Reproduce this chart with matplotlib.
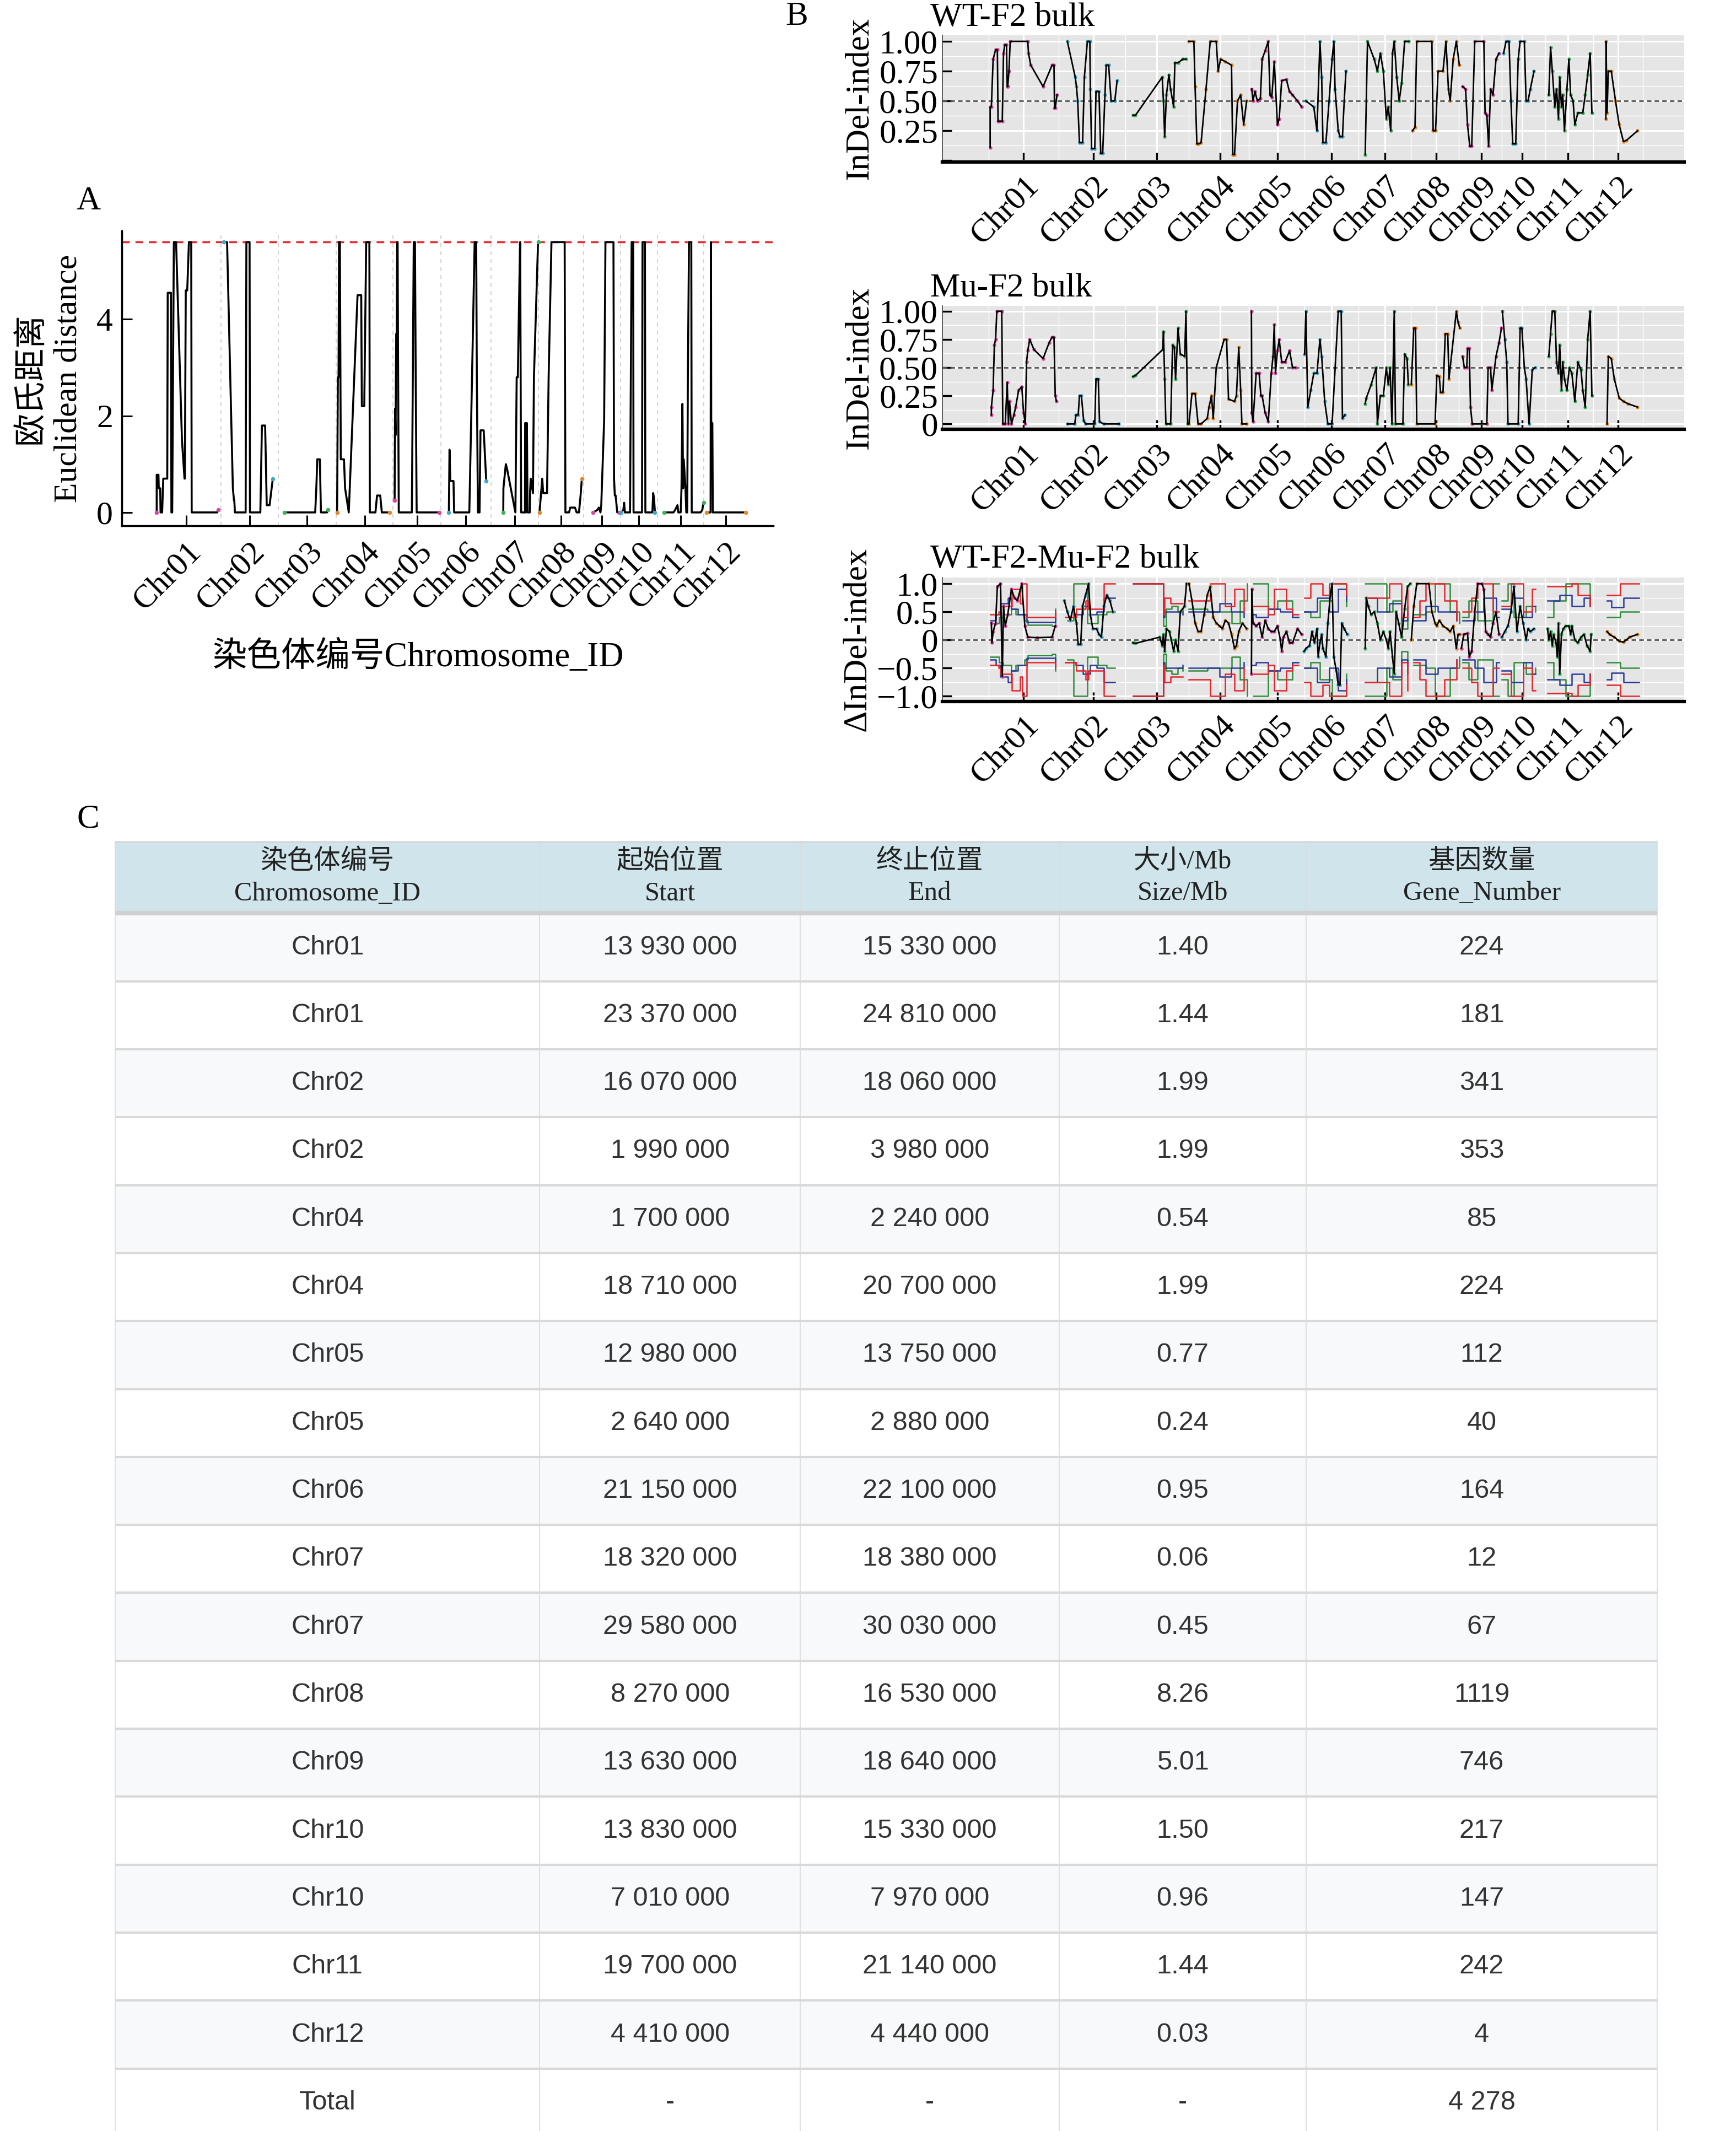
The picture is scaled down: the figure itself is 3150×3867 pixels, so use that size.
import numpy as np
import matplotlib
matplotlib.use("Agg")
import matplotlib.pyplot as plt

plt.rcParams['font.family'] = ['Liberation Serif', 'Noto Sans CJK SC']
plt.rcParams['axes.unicode_minus'] = True

# ---------------- chromosome layout ----------------
chrom_names = ['Chr01', 'Chr02', 'Chr03', 'Chr04', 'Chr05', 'Chr06',
               'Chr07', 'Chr08', 'Chr09', 'Chr10', 'Chr11', 'Chr12']
chrom_len = [43.27, 35.94, 36.41, 35.50, 29.96, 31.25, 29.70, 28.44, 23.01, 23.21, 29.02, 27.53]
chrom_colors = ['#d6489e', '#3fa9c6', '#3db35f', '#e08b2b'] * 3

# ---------------- panel A: Euclidean distance (pos in Mb within chromosome) ----------------
ed_pos = [
    [3.2, 3.2, 4.3, 4.5, 5.4, 5.6, 6.6, 7.3, 7.9, 9.8, 10.1, 12.1, 12.4, 12.9, 13.4, 13.93, 15.33, 19.0, 20.6, 20.8, 21.4, 22.3, 23.37, 24.81, 25.1, 33.0, 41.0, 41.8],
    [1.99, 3.98, 7.6, 8.3, 8.5, 8.9, 15.6, 16.07, 18.06, 18.3, 24.8, 25.8, 27.8, 28.8, 30.6, 32.6],
    [4.0, 23.2, 23.9, 24.5, 26.1, 26.8, 30.6, 31.3],
    [0.5, 1.0, 1.4, 1.7, 2.24, 2.8, 4.8, 5.5, 7.8, 13.3, 15.6, 16.0, 17.5, 18.71, 20.7, 21.0, 24.5, 25.5, 27.5, 28.5, 30.0, 33.5],
    [1.0, 1.3, 1.6, 2.0, 2.3, 2.64, 2.88, 3.2, 3.6, 11.8, 12.4, 12.98, 13.75, 14.2, 14.8, 29.0],
    [5.0, 5.4, 5.9, 6.6, 7.9, 8.3, 17.8, 19.5, 21.15, 22.1, 22.5, 23.2, 24.2, 24.8, 26.8, 27.4, 28.4],
    [7.8, 7.9, 9.4, 10.2, 15.4, 16.2, 16.9, 18.32, 18.38, 19.0, 21.4, 21.5, 21.9, 22.0, 22.6, 23.0, 24.4, 24.6, 25.0, 26.4, 27.0, 29.58, 29.7],
    [0.8, 2.5, 3.1, 3.8, 5.5, 6.5, 8.27, 16.53, 17.0, 19.3, 20.0, 20.5, 23.0, 24.0, 25.5, 26.5, 27.3],
    [6.0, 8.5, 9.5, 10.5, 11.0, 12.8, 13.63, 18.64, 19.0, 19.5, 20.0, 21.0, 22.5],
    [0.5, 1.8, 2.3, 2.8, 6.0, 7.01, 7.97, 8.2, 13.5, 13.83, 15.33, 15.6, 20.0, 20.5, 21.0, 21.6],
    [4.0, 10.0, 11.0, 12.5, 13.0, 14.5, 15.0, 15.6, 16.0, 16.4, 17.5, 18.0, 18.6, 19.0, 19.7, 21.14, 21.4, 27.0, 28.0, 28.5, 28.8],
    [1.5, 4.2, 4.41, 4.44, 4.6, 5.3, 5.6, 8.0, 18.0, 26.0],
]
ed_val = [
    [0.0, 0.78, 0.78, 0.5, 0.5, 0.0, 0.0, 0.7, 0.7, 0.7, 4.55, 4.55, 0.0, 0.0, 2.8, 5.6, 5.6, 1.5, 0.7, 0.7, 4.6, 4.6, 5.6, 5.6, 0.0, 0.0, 0.0, 0.05],
    [5.6, 5.6, 0.5, 0.25, 0.25, 0.0, 0.0, 5.6, 5.6, 0.0, 0.0, 1.8, 1.8, 0.15, 0.15, 0.7],
    [0.0, 0.0, 0.5, 1.1, 1.1, 0.0, 0.0, 0.05],
    [0.0, 2.8, 2.8, 5.6, 5.6, 1.1, 1.1, 0.5, 0.0, 4.5, 4.5, 2.2, 2.2, 5.6, 5.6, 0.0, 0.0, 0.35, 0.35, 0.0, 0.0, 0.0],
    [0.25, 2.15, 1.6, 3.7, 3.7, 5.6, 5.6, 2.8, 0.0, 0.0, 2.8, 5.6, 5.6, 2.8, 0.0, 0.0],
    [0.0, 1.3, 0.65, 0.65, 0.65, 0.0, 0.0, 2.8, 5.6, 5.6, 2.8, 0.0, 0.0, 1.7, 1.7, 1.3, 0.65],
    [0.0, 0.5, 1.0, 0.9, 0.0, 2.8, 2.8, 5.6, 5.6, 0.0, 0.0, 1.85, 1.85, 0.0, 1.85, 0.0, 0.0, 0.45, 0.7, 0.4, 2.8, 5.6, 5.6],
    [0.0, 0.7, 0.4, 0.4, 0.4, 2.8, 5.6, 5.6, 0.0, 0.0, 0.1, 0.1, 0.1, 0.0, 0.0, 0.35, 0.7],
    [0.0, 0.05, 0.1, 0.0, 0.15, 1.9, 5.6, 5.6, 0.7, 0.35, 0.35, 0.0, 0.0],
    [0.0, 0.05, 0.2, 0.0, 0.0, 5.6, 5.6, 0.0, 0.0, 5.6, 5.6, 0.0, 0.0, 0.4, 0.3, 0.0],
    [0.0, 0.0, 0.05, 0.15, 0.0, 0.0, 0.5, 2.25, 0.5, 1.1, 0.5, 0.0, 0.0, 2.8, 5.6, 5.6, 0.0, 0.0, 0.05, 0.15, 0.2],
    [0.0, 0.0, 5.6, 5.6, 1.85, 1.85, 0.0, 0.0, 0.0, 0.0],
]
ed_threshold = 5.6

# ---------------- panel B: InDel-index WT-F2 bulk ----------------
wt_pos = [
    [2.6, 2.6, 3.3, 4.3, 5.7, 6.7, 7.1, 7.8, 9.5, 10.2, 10.9, 11.9, 12.3, 12.6, 13.3, 14.0, 24.0, 24.4, 25.7, 32.7, 37.8, 38.9, 39.2, 39.6, 40.6],
    [3.2, 7.7, 8.4, 9.1, 10.1, 11.9, 12.9, 14.6, 16.0, 16.3, 17.0, 18.8, 19.5, 21.2, 22.2, 23.3, 24.6, 25.3, 26.7, 28.1, 30.2, 31.5],
    [4.6, 6.0, 21.2, 21.9, 22.6, 23.6, 25.0, 26.0, 27.7, 28.4, 30.2, 32.9, 34.7],
    [0.0, 2.8, 3.5, 4.5, 5.5, 6.9, 9.7, 12.1, 15.5, 16.6, 18.0, 20.7, 24.2, 24.9, 25.9, 27.6, 29.4, 31.1, 32.8],
    [0.2, 0.9, 2.0, 3.4, 5.1, 6.1, 7.8, 9.6, 10.6, 11.6, 13.0, 14.8, 15.8, 17.2, 19.9, 21.6, 23.4, 26.2, 28.6],
    [1.0, 5.5, 7.3, 9.0, 10.0, 10.7, 12.4, 14.2, 15.9, 16.9, 17.6, 19.4, 20.4, 21.8, 22.8, 23.8],
    [3.5, 4.1, 4.8, 8.6, 10.4, 12.1, 13.8, 15.5, 16.6, 18.0, 19.0, 20.0, 21.4, 22.8, 24.2, 25.9, 28.3],
    [0.7, 2.1, 3.1, 11.7, 12.4, 13.8, 15.2, 18.0, 19.7, 21.1, 22.1, 23.8, 25.6, 27.3],
    [0.7, 2.4, 3.5, 4.8, 5.9, 7.6, 12.8, 13.5, 14.5, 15.5, 16.6, 18.0, 19.7, 21.4],
    [1.0, 2.4, 4.1, 5.2, 6.2, 7.9, 9.3, 10.4, 12.8, 13.8, 14.9, 16.2, 18.3],
    [3.5, 4.5, 5.5, 6.9, 7.9, 9.0, 9.7, 10.7, 11.4, 12.4, 13.8, 14.9, 15.9, 17.3, 18.3, 20.0, 22.8, 24.2, 25.6, 27.0, 28.0],
    [6.9, 7.0, 7.6, 8.3, 10.0, 12.4, 14.5, 16.9, 18.7, 24.9],
]
wt_val = [
    [0.11, 0.45, 0.45, 0.85, 0.93, 0.93, 0.33, 0.33, 0.33, 0.9, 0.97, 0.97, 0.62, 0.62, 0.75, 1.0, 1.0, 0.9, 0.8, 0.62, 0.8, 0.8, 0.44, 0.44, 0.55],
    [1.0, 0.7, 0.62, 0.5, 0.15, 0.15, 0.7, 1.0, 1.0, 0.6, 0.1, 0.1, 0.58, 0.58, 0.06, 0.06, 0.55, 0.8, 0.8, 0.5, 0.5, 0.67],
    [0.38, 0.38, 0.7, 0.5, 0.2, 0.55, 0.72, 0.6, 0.45, 0.82, 0.82, 0.85, 0.85],
    [1.0, 1.0, 0.62, 0.14, 0.14, 0.15, 0.6, 1.0, 1.0, 0.75, 0.85, 0.83, 0.8, 0.05, 0.05, 0.5, 0.55, 0.3, 0.5],
    [0.6, 0.5, 0.58, 0.5, 0.52, 0.85, 0.92, 1.0, 0.55, 0.53, 0.83, 0.3, 0.35, 0.67, 0.68, 0.58, 0.55, 0.5, 0.45],
    [0.5, 0.45, 0.25, 1.0, 0.7, 0.15, 0.15, 0.5, 0.85, 1.0, 0.6, 0.25, 0.2, 0.2, 0.5, 0.75],
    [0.05, 0.5, 1.0, 0.85, 0.75, 0.9, 0.75, 0.35, 0.45, 0.25, 0.9, 1.0, 0.7, 0.5, 0.65, 1.0, 1.0],
    [0.25, 0.28, 1.0, 1.0, 0.25, 0.25, 0.75, 0.75, 1.0, 0.6, 0.5, 0.85, 1.0, 0.8],
    [0.62, 0.6, 0.3, 0.12, 0.12, 1.0, 1.0, 0.4, 0.38, 0.12, 0.6, 0.55, 0.85, 0.9],
    [0.9, 1.0, 1.0, 0.5, 0.14, 0.14, 0.85, 1.0, 1.0, 0.5, 0.5, 0.6, 0.75],
    [0.55, 0.95, 0.75, 0.45, 0.6, 0.35, 0.7, 0.45, 0.55, 0.25, 0.6, 0.85, 0.55, 0.5, 0.3, 0.4, 0.4, 0.55, 0.72, 0.9, 0.4],
    [0.35, 1.0, 0.4, 0.75, 0.75, 0.5, 0.3, 0.16, 0.17, 0.25],
]

# ---------------- panel B: InDel-index Mu-F2 bulk ----------------
mu_pos = [
    [3.3, 3.3, 4.3, 5.0, 5.7, 6.4, 9.2, 9.8, 11.2, 12.3, 13.0, 13.6, 14.7, 16.1, 17.1, 18.8, 20.6, 21.6, 22.6, 23.3, 24.0, 25.1, 27.5, 32.7, 36.1, 37.8, 38.9, 39.6, 40.3],
    [3.2, 7.4, 8.1, 9.4, 10.1, 11.2, 12.5, 13.6, 18.8, 19.5, 20.8, 21.5, 23.9, 32.6],
    [4.6, 6.0, 21.5, 21.9, 22.6, 23.3, 26.0, 27.1, 28.1, 28.8, 30.2, 31.5, 34.0, 34.7, 35.7],
    [0.0, 1.7, 3.5, 5.2, 6.9, 10.4, 11.4, 12.8, 13.8, 15.5, 20.0, 21.4, 22.5, 25.9, 27.0, 28.3, 29.4, 30.1, 32.8],
    [0.0, 0.25, 0.9, 2.7, 4.4, 5.4, 6.1, 7.8, 9.6, 11.3, 12.3, 13.0, 13.7, 14.8, 15.8, 17.2, 19.2, 21.7, 23.4, 25.1],
    [0.3, 1.0, 2.1, 3.8, 5.5, 7.3, 9.0, 10.0, 11.7, 13.5, 15.9, 19.4, 21.1, 21.8, 23.2],
    [3.5, 4.1, 6.9, 9.7, 10.4, 12.1, 13.8, 15.5, 16.6, 17.6, 18.7, 20.0, 20.7, 24.9, 25.9, 27.3, 28.0],
    [0.0, 1.4, 2.4, 3.1, 13.5, 14.5, 15.9, 16.6, 18.0, 19.3, 20.7, 21.4, 25.6, 26.6, 27.6],
    [0.7, 1.7, 3.1, 3.5, 4.5, 5.2, 6.2, 14.5, 15.2, 16.6, 17.3, 19.7, 21.4, 22.8],
    [0.3, 1.7, 2.8, 3.5, 9.3, 10.4, 11.4, 12.8, 13.8, 15.5, 17.3, 19.0],
    [3.5, 4.5, 5.5, 6.9, 7.9, 9.0, 9.7, 10.7, 11.4, 12.4, 13.8, 15.2, 16.6, 18.3, 20.0, 21.8, 22.8, 24.2, 25.6, 27.0, 28.0],
    [7.6, 8.3, 10.0, 11.7, 14.5, 16.9, 19.4, 24.9],
]
mu_val = [
    [0.08, 0.15, 0.3, 0.7, 0.75, 1.0, 1.0, 0.0, 0.0, 0.37, 0.0, 0.2, 0.0, 0.08, 0.15, 0.3, 0.33, 0.1, 0.0, 0.55, 0.65, 0.75, 0.66, 0.58, 0.72, 0.77, 0.77, 0.25, 0.2],
    [0.0, 0.0, 0.08, 0.08, 0.25, 0.25, 0.03, 0.0, 0.0, 0.4, 0.4, 0.02, 0.0, 0.0],
    [0.42, 0.43, 0.66, 0.82, 0.4, 0.0, 0.0, 0.7, 0.68, 0.4, 0.85, 0.62, 0.6, 1.0, 0.0],
    [0.0, 0.27, 0.27, 0.0, 0.0, 0.05, 0.15, 0.25, 0.05, 0.5, 0.75, 0.75, 0.22, 0.2, 0.25, 0.68, 0.3, 0.0, 0.0],
    [1.0, 0.1, 0.02, 0.45, 0.45, 0.25, 0.25, 0.1, 0.02, 0.45, 0.6, 0.88, 0.45, 0.65, 0.75, 0.55, 0.55, 0.65, 0.5, 0.5],
    [0.62, 1.0, 0.15, 0.3, 0.45, 0.45, 0.75, 0.6, 0.2, 0.0, 0.0, 1.0, 1.0, 0.05, 0.08],
    [0.18, 0.23, 0.35, 0.5, 0.0, 0.25, 0.25, 0.5, 0.35, 0.5, 0.0, 1.0, 0.0, 0.0, 0.62, 0.58, 0.35],
    [0.35, 0.85, 0.85, 0.0, 0.0, 0.43, 0.42, 0.28, 0.28, 0.8, 0.8, 0.4, 1.0, 0.9, 0.85],
    [0.6, 0.5, 0.5, 0.67, 0.67, 0.15, 0.0, 0.0, 0.5, 0.5, 0.3, 0.6, 0.72, 0.85],
    [1.0, 0.75, 0.55, 0.0, 0.0, 0.85, 0.85, 0.5, 0.4, 0.0, 0.48, 0.5],
    [0.6, 0.8, 1.0, 1.0, 0.55, 0.45, 0.7, 0.3, 0.55, 0.4, 0.3, 0.5, 0.45, 0.2, 0.55, 0.48, 0.3, 0.15, 0.75, 1.0, 0.25],
    [0.0, 0.6, 0.58, 0.4, 0.23, 0.2, 0.18, 0.15],
]

# ---------------- panel B: delta InDel-index ----------------
delta_pos = [
    [3.3, 3.6, 4.3, 5.7, 6.7, 8.5, 9.5, 10.2, 11.2, 12.6, 14.7, 16.4, 18.1, 20.6, 22.3, 24.0, 29.2, 37.8, 39.6],
    [1.5, 3.2, 4.9, 6.7, 8.4, 9.4, 10.8, 11.9, 13.6, 15.3, 16.3, 17.7, 19.8, 21.2, 22.6, 24.0, 25.7, 27.4, 29.1],
    [4.6, 6.0, 19.8, 21.2, 21.9, 22.6, 23.6, 25.3, 26.4, 27.7, 28.8, 30.2, 31.5, 33.9, 35.0],
    [0.0, 1.7, 3.5, 5.2, 6.9, 8.6, 10.4, 12.1, 13.8, 15.5, 17.3, 19.0, 20.7, 22.5, 24.2, 25.9, 27.0, 28.3, 30.4, 32.8],
    [0.0, 0.3, 0.9, 2.7, 4.4, 6.1, 7.8, 9.6, 11.3, 13.0, 14.8, 16.5, 17.2, 18.2, 19.9, 21.7, 23.4, 26.2, 28.6],
    [0.0, 1.0, 3.1, 4.5, 5.9, 7.3, 8.0, 9.0, 10.0, 10.7, 12.4, 13.5, 14.9, 15.9, 16.9, 18.3, 19.4, 20.4, 21.4, 22.8, 24.5],
    [3.5, 4.1, 5.2, 6.9, 8.6, 10.4, 12.1, 13.8, 15.5, 16.6, 17.6, 19.0, 20.0, 21.1, 22.5, 24.2, 25.9, 27.6, 29.0],
    [0.0, 1.4, 3.1, 10.0, 11.7, 13.5, 14.5, 15.9, 18.0, 20.4, 22.1, 23.8, 25.6, 26.6, 27.6],
    [0.0, 1.4, 3.5, 4.5, 5.9, 7.6, 9.3, 11.7, 12.8, 13.8, 15.2, 16.6, 18.0, 19.7, 21.4],
    [0.0, 1.7, 3.5, 5.2, 6.9, 8.6, 10.4, 12.1, 13.8, 14.9, 16.2, 18.3],
    [2.8, 3.5, 4.5, 5.5, 6.2, 7.6, 8.3, 9.0, 9.7, 10.7, 11.7, 13.1, 14.9, 15.9, 16.6, 18.3, 20.0, 21.8, 23.5, 25.2, 27.0, 27.6],
    [7.6, 9.0, 11.7, 14.5, 16.9, 20.4, 24.9],
]
delta_val = [
    [0.3, -0.05, 0.15, 0.3, 0.95, 1.0, -0.65, 0.6, 0.25, 0.45, 0.9, 0.75, 0.7, 1.0, 0.25, 0.05, 0.04, 0.05, 0.25],
    [0.7, 0.5, 0.35, 0.6, 0.3, -0.08, -0.08, 0.6, 0.8, 1.0, 0.45, 0.2, 0.2, 0.1, 0.05, 0.6, 0.8, 0.7, 0.5],
    [-0.05, -0.06, 0.05, -0.1, 0.1, -0.2, 0.2, 0.15, 0.0, -0.2, 0.0, -0.2, 0.5, 0.6, 1.0],
    [1.0, 0.7, 0.3, 0.15, 0.15, 0.45, 0.8, 0.95, 0.4, 0.3, 0.25, 0.2, 0.35, 0.3, 0.1, -0.15, -0.1, 0.15, 0.3, 0.2],
    [-0.6, 0.9, 0.3, 0.25, 0.3, 0.05, 0.35, 0.2, 0.15, 0.15, 0.25, 0.0, -0.2, 0.05, 0.15, -0.05, -0.05, 0.2, 0.1],
    [-0.2, -0.15, -0.1, 0.15, -0.05, 0.2, -0.3, -0.05, 0.1, -0.15, -0.3, 0.3, 0.8, 1.0, -0.3, -0.55, -0.8, -0.8, 0.3, 0.2, 0.1],
    [-0.15, 0.75, 0.6, 0.45, 0.5, 0.3, 0.0, 0.15, 0.0, -0.15, 0.15, -0.3, -0.6, 0.5, 0.3, 0.05, 0.55, 0.95, 1.0],
    [0.0, 0.6, 1.0, 1.0, 0.5, 0.3, 0.25, 0.35, 0.25, 0.2, 0.15, 0.25, -0.15, 0.1, 0.1],
    [-0.15, 0.1, 0.12, -0.3, -0.2, 0.5, 1.0, 1.0, 0.9, 0.15, 0.1, 0.05, 0.3, 0.5, 0.1],
    [0.05, 0.15, 0.25, 0.5, 0.95, 0.15, 0.6, 0.3, 0.0, 0.2, 0.15, 0.2],
    [0.2, 0.0, 0.15, -0.1, 0.1, -0.05, -0.3, 0.3, -0.6, 0.1, 0.2, 0.25, 0.25, 0.1, 0.25, 0.0, -0.05, 0.05, 0.1, -0.1, -0.2, 0.1],
    [0.15, 0.1, 0.05, -0.02, -0.04, 0.05, 0.1],
]

# confidence bounds (upper side; lower side drawn mirrored)
ci_red_pos = [
    [2.6, 7.5, 8.5, 14.5, 15.0, 19.5, 20.9, 22.3, 23.3, 37.8, 39.6],
    [2.2, 6.7, 8.4, 13.6, 15.3, 23.2, 23.9, 30.2],
    [4.6, 21.9, 22.5, 26.0, 29.5, 32.9],
    [0.0, 10.4, 12.1, 17.3, 20.7, 25.9, 31.1],
    [0.0, 9.6, 13.0, 19.9, 23.4, 26.8],
    [0.3, 3.8, 7.3, 10.7, 14.2, 19.4, 24.0],
    [3.5, 13.8, 17.3, 24.2, 27.6],
    [1.4, 4.8, 8.3, 15.2, 18.7, 25.6],
    [0.7, 5.9, 9.3, 14.5, 18.0, 21.5],
    [0.0, 5.2, 8.6, 12.1, 17.3, 19.0],
    [2.8, 16.6, 20.0, 27.0],
    [7.6, 15.2, 25.6],
]
ci_red_val = [
    [0.45, 0.5, 0.6, 0.6, 0.9, 0.65, 1.0, 1.0, 0.4, 0.4, 0.5],
    [0.4, 0.4, 0.55, 0.7, 0.55, 0.55, 1.0, 1.0],
    [1.0, 0.45, 0.75, 0.65, 0.65, 0.65],
    [0.7, 0.7, 1.0, 1.0, 0.6, 0.9, 0.5],
    [0.6, 0.45, 0.9, 0.55, 0.45, 0.45],
    [0.75, 1.0, 1.0, 0.8, 1.0, 1.0, 0.8],
    [0.75, 0.75, 1.0, 0.4, 0.9],
    [0.4, 0.7, 1.0, 1.0, 0.7, 0.35],
    [0.5, 0.75, 1.0, 1.0, 0.5, 0.5],
    [0.6, 1.0, 1.0, 0.5, 0.9, 0.9],
    [0.95, 1.0, 0.8, 0.6],
    [0.8, 1.0, 1.0],
]
ci_blue_pos = [
    [2.6, 6.0, 8.5, 12.6, 14.5, 18.5, 23.3, 37.8, 39.6],
    [2.2, 8.0, 12.0, 16.0, 20.0, 24.0, 26.0, 30.2],
    [4.6, 21.9, 22.5, 27.0, 32.9],
    [0.0, 14.0, 17.3, 24.0, 31.1],
    [0.0, 2.7, 9.6, 16.5, 23.4, 26.8],
    [0.3, 7.3, 14.2, 19.4, 24.0],
    [3.5, 10.4, 17.3, 24.2, 27.6],
    [1.4, 8.3, 15.2, 25.6],
    [0.7, 7.6, 12.8, 19.7, 21.5],
    [0.0, 5.2, 12.1, 17.3, 19.0],
    [2.8, 9.7, 16.6, 23.5, 27.0],
    [7.6, 10.0, 16.9, 25.6],
]
ci_blue_val = [
    [0.35, 0.45, 0.65, 0.75, 0.55, 0.45, 0.32, 0.32, 0.5],
    [0.4, 0.45, 0.6, 0.45, 0.5, 0.75, 0.75, 0.75],
    [1.0, 0.4, 0.5, 0.5, 0.45],
    [0.5, 0.5, 0.65, 0.5, 0.4],
    [0.45, 0.4, 0.55, 0.5, 0.4, 0.4],
    [0.5, 0.75, 0.5, 0.9, 0.7],
    [0.75, 0.5, 0.65, 0.35, 0.6],
    [0.35, 0.6, 0.5, 0.35],
    [0.35, 0.5, 0.75, 0.4, 0.4],
    [0.55, 0.75, 0.4, 0.6, 0.6],
    [0.7, 0.8, 0.6, 0.75, 0.6],
    [0.7, 0.58, 0.75, 0.75],
]
ci_green_pos = [
    [2.6, 7.8, 10.0, 14.7, 17.0, 22.0, 24.0, 37.8, 39.6],
    [3.2, 5.9, 6.7, 13.6, 14.6, 18.8, 20.5, 25.7, 30.2],
    [4.6, 21.9, 23.5, 26.5, 30.0, 32.9],
    [0.0, 10.4, 14.0, 24.2, 29.0, 33.0],
    [0.9, 6.1, 9.6, 14.8, 23.4, 26.8],
    [0.3, 3.8, 9.0, 15.9, 21.1, 24.0],
    [3.5, 12.1, 15.5, 19.0, 24.2, 27.6],
    [1.4, 8.3, 13.5, 18.7, 22.1, 27.3],
    [0.7, 4.1, 9.3, 18.0, 21.5],
    [0.0, 3.5, 6.9, 13.8, 19.0],
    [2.8, 6.2, 13.1, 23.5, 27.0],
    [7.6, 15.2, 25.6],
]
ci_green_val = [
    [0.3, 0.4, 0.45, 0.55, 0.45, 0.35, 0.27, 0.25, 0.55],
    [0.35, 0.35, 1.0, 1.0, 0.3, 0.3, 0.45, 0.5, 0.5],
    [1.0, 0.25, 0.55, 0.6, 0.5, 0.55],
    [0.55, 0.5, 0.5, 0.3, 0.7, 1.0],
    [1.0, 1.0, 0.55, 0.7, 0.4, 0.4],
    [0.5, 0.4, 0.7, 1.0, 1.0, 0.6],
    [1.0, 1.0, 0.5, 0.7, 0.2, 0.5],
    [0.45, 0.5, 1.0, 1.0, 0.5, 0.3],
    [0.4, 0.7, 0.35, 1.0, 1.0],
    [0.7, 1.0, 0.4, 0.6, 0.5],
    [0.4, 0.7, 1.0, 1.0, 0.6],
    [0.4, 0.5, 0.5],
]

# ---------------- panel C: table ----------------
tbl_chrom = ['Chr01', 'Chr01', 'Chr02', 'Chr02', 'Chr04', 'Chr04', 'Chr05', 'Chr05', 'Chr06',
             'Chr07', 'Chr07', 'Chr08', 'Chr09', 'Chr10', 'Chr10', 'Chr11', 'Chr12']
tbl_start = [13930000, 23370000, 16070000, 1990000, 1700000, 18710000, 12980000, 2640000, 21150000,
             18320000, 29580000, 8270000, 13630000, 13830000, 7010000, 19700000, 4410000]
tbl_end = [15330000, 24810000, 18060000, 3980000, 2240000, 20700000, 13750000, 2880000, 22100000,
           18380000, 30030000, 16530000, 18640000, 15330000, 7970000, 21140000, 4440000]
tbl_size = [1.40, 1.44, 1.99, 1.99, 0.54, 1.99, 0.77, 0.24, 0.95, 0.06, 0.45, 8.26, 5.01, 1.50, 0.96, 1.44, 0.03]
tbl_genes = [224, 181, 341, 353, 85, 224, 112, 40, 164, 12, 67, 1119, 746, 217, 147, 242, 4]
tbl_header = ['染色体编号\nChromosome_ID', '起始位置\nStart', '终止位置\nEnd', '大小/Mb\nSize/Mb', '基因数量\nGene_Number']

# ======================================================================
starts = np.concatenate([[0.0], np.cumsum(chrom_len)[:-1]])
centers = starts + np.array(chrom_len) / 2

fig = plt.figure(figsize=(31.5, 38.67), dpi=100)


def draw_chrom_lines(ax, pos_list, val_list, lw, sign=1, color='black', step=False, dots=False, z=3):
    for i, (p, v) in enumerate(zip(pos_list, val_list)):
        x = starts[i] + np.array(p)
        y = sign * np.array(v)
        if dots:
            ax.scatter(x, y, s=22, color=chrom_colors[i], zorder=z - 1, linewidths=0)
        ax.plot(x, y, color=color, lw=lw, zorder=z,
                drawstyle='steps-post' if step else 'default')


# ---------------- panel A ----------------
axA = fig.add_axes([0.0703, 0.7532, 0.375, 0.1384])
for i, (p, v) in enumerate(zip(ed_pos, ed_val)):
    x = starts[i] + np.array(p)
    axA.plot(x, v, color='black', lw=2.6, zorder=3)
    axA.scatter([x[0], x[-1]], [v[0], v[-1]], s=30, color=chrom_colors[i], zorder=4, linewidths=0)
axA.axhline(ed_threshold, color='#e8262a', ls=(0, (4, 3)), lw=2.5, zorder=2)
for b in starts[1:]:
    axA.axvline(b, color='#cfcfcf', ls=(0, (4, 4)), lw=1.3, zorder=1)
axA.set_xlim(-18.5, 389)
axA.set_ylim(-0.28, 5.83)
axA.spines['top'].set_visible(False)
axA.spines['right'].set_visible(False)
for s in ['left', 'bottom']:
    axA.spines[s].set_linewidth(2.5)
axA.set_yticks([0, 2, 4])
axA.set_xticks(centers)
axA.set_xticklabels(chrom_names, rotation=45, ha='right', rotation_mode='anchor')
axA.tick_params(axis='both', direction='in', length=14, width=2.2, labelsize=43)
axA.tick_params(axis='x', pad=14)
axA.tick_params(axis='y', pad=12)
axA.set_xlabel('染色体编号Chromosome_ID', fontsize=45, labelpad=32)
axA.xaxis.label.set_x(0.455)
axA.set_ylabel('欧氏距离\nEuclidean distance', fontsize=43, linespacing=1.35, labelpad=16)

# ---------------- panel B ----------------
minor_x = np.concatenate([[centers[0] - (centers[1] - centers[0]) / 2],
                          (centers[:-1] + centers[1:]) / 2,
                          [centers[-1] + (centers[-1] - centers[-2]) / 2]])


def setup_b(rect, title, ylabel, ylim, yticks, ylabels, hline):
    ax = fig.add_axes(rect)
    ax.set_facecolor('#e5e5e5')
    ax.set_xlim(-24.4, 397)
    ax.set_ylim(*ylim)
    ax.set_xticks(centers)
    ax.set_xticks(minor_x, minor=True)
    ax.set_xticklabels(chrom_names, rotation=45, ha='right', rotation_mode='anchor')
    ax.set_yticks(yticks)
    ax.set_yticklabels(ylabels)
    ymin = [(a + b) / 2 for a, b in zip(yticks[:-1], yticks[1:])]
    ax.set_yticks(ymin, minor=True)
    ax.grid(which='major', color='white', lw=2.2, zorder=0)
    ax.grid(which='minor', color='white', lw=1.0, zorder=0)
    ax.set_axisbelow(True)
    for s in ['top', 'right']:
        ax.spines[s].set_visible(False)
    ax.spines['bottom'].set_linewidth(4.5)
    ax.spines['left'].set_linewidth(1.2)
    ax.spines['left'].set_color('#444444')
    ax.tick_params(which='major', direction='in', length=12, width=2.4, labelsize=44)
    ax.tick_params(which='minor', length=0)
    ax.tick_params(axis='x', pad=12, labelsize=43)
    ax.tick_params(axis='y', pad=6)
    ax.axhline(hline, color='#555555', ls=(0, (3, 2)), lw=2.0, zorder=2)
    ax.set_ylabel(ylabel, fontsize=44, labelpad=6)
    ax.text(-0.017, 1.02, title, transform=ax.transAxes, fontsize=44, ha='left', va='bottom')
    return ax


axB1 = setup_b([0.543, 0.9241, 0.427, 0.0593], 'WT-F2 bulk', 'InDel-index', (-0.01, 1.05),
               [0, 0.25, 0.5, 0.75, 1.0], ['', '0.25', '0.50', '0.75', '1.00'], 0.5)
draw_chrom_lines(axB1, wt_pos, wt_val, lw=2.0, dots=True)

axB2 = setup_b([0.543, 0.7985, 0.427, 0.058], 'Mu-F2 bulk', 'InDel-index', (-0.048, 1.048),
               [0, 0.25, 0.5, 0.75, 1.0], ['0', '0.25', '0.50', '0.75', '1.00'], 0.5)
draw_chrom_lines(axB2, mu_pos, mu_val, lw=2.0, dots=True)

axB3 = setup_b([0.543, 0.6709, 0.427, 0.0581], 'WT-F2-Mu-F2 bulk', 'ΔInDel-index', (-1.09, 1.11),
               [-1.0, -0.5, 0, 0.5, 1.0], ['\u22121.0', '\u22120.5', '0', '0.5', '1.0'], 0.0)
for sign in [1, -1]:
    draw_chrom_lines(axB3, ci_green_pos, ci_green_val, lw=1.8, sign=sign, color='#2e8b3a', step=True, z=3)
    draw_chrom_lines(axB3, ci_blue_pos, ci_blue_val, lw=1.8, sign=sign, color='#2b3a9a', step=True, z=3)
    draw_chrom_lines(axB3, ci_red_pos, ci_red_val, lw=1.8, sign=sign, color='#e3242b', step=True, z=3)
draw_chrom_lines(axB3, delta_pos, delta_val, lw=2.0, dots=True, z=5)

# panel letters
fig.text(0.0508, 0.9056, 'A', fontsize=44, ha='center', va='center')
fig.text(0.459, 0.9923, 'B', fontsize=44, ha='center', va='center')
fig.text(0.0508, 0.6154, 'C', fontsize=44, ha='center', va='center')

# ---------------- panel C: table ----------------
def fmt_int(v):
    return f"{v:,}".replace(',', ' ')


rows = []
for c, a, b, s, g in zip(tbl_chrom, tbl_start, tbl_end, tbl_size, tbl_genes):
    rows.append([c, fmt_int(a), fmt_int(b), f"{s:.2f}", str(g)])
rows.append(['Total', '-', '-', '-', fmt_int(sum(tbl_genes))])

col_w = np.array([313, 192, 191, 182, 259], dtype=float)
col_w = col_w / col_w.sum()
head_h, row_h = 53.0, 50.0
total_h = head_h + row_h * len(rows)

tax = fig.add_axes([0.0664, 0.6052 - total_h / 1568, 0.8883, total_h / 1568])
tax.set_xlim(0, 1)
tax.set_ylim(0, 1)
tax.axis('off')
tbl = tax.table(cellText=rows, colLabels=tbl_header, colWidths=list(col_w),
                cellLoc='center', bbox=[0, 0, 1, 1])
tbl.auto_set_font_size(False)
for (r, c), cell in tbl.get_celld().items():
    cell.set_edgecolor('#dcdcdc')
    cell.set_linewidth(1.2)
    txt = cell.get_text()
    if r == 0:
        cell.set_height(head_h)
        cell.set_facecolor('#cfe5eb')
        txt.set_fontsize(35)
        txt.set_color('#222222')
        txt.set_linespacing(1.4)
    else:
        cell.set_height(row_h)
        cell.set_facecolor('#f8f9fa' if r % 2 == 1 else '#ffffff')
        txt.set_fontsize(35)
        txt.set_fontfamily('Liberation Sans')
        txt.set_color('#333333')

# thicker horizontal rules between rows
ys = [1.0, 1.0 - head_h / total_h]
for k in range(1, len(rows)):
    ys.append(1.0 - (head_h + k * row_h) / total_h)
tax.hlines(ys[0], 0, 1, color='#d6d6d8', lw=4, zorder=5, transform=tax.transAxes)
tax.hlines(ys[1], 0, 1, color='#d0d0d2', lw=6, zorder=5, transform=tax.transAxes)
tax.hlines(ys[2:], 0, 1, color='#d9d9d9', lw=3, zorder=5, transform=tax.transAxes)

fig.savefig('out.png', dpi=100)
